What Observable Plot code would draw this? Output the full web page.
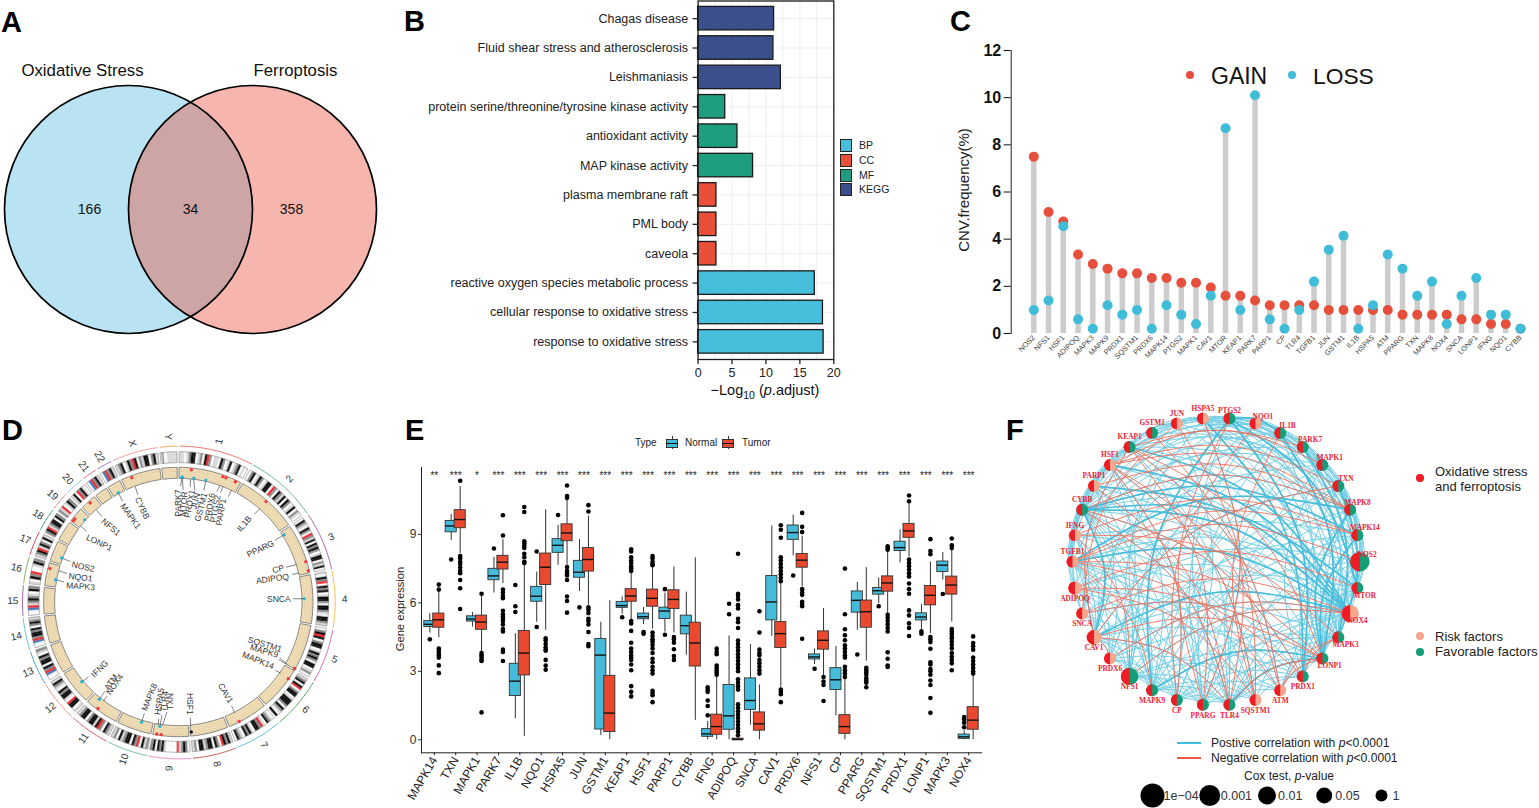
<!DOCTYPE html>
<html><head><meta charset="utf-8">
<script src="https://cdn.jsdelivr.net/npm/d3@7"></script>
<script src="https://cdn.jsdelivr.net/npm/@observablehq/plot@0.6"></script>
<style>
html,body{margin:0;padding:0;background:#fff}
#page{position:relative;width:1539px;height:808px;overflow:hidden;font-family:"Liberation Sans",Arial,sans-serif;color:#111}
#page svg{position:absolute;max-width:none;overflow:visible;background:transparent}
.t{position:absolute;white-space:nowrap;line-height:1}
.s{position:absolute}
</style></head><body><div id="page"></div>
<script>
/* ---------- A: Venn ---------- */
const vennNames=["Oxidative Stress","Ferroptosis"];
const vennCounts=[166,34,358];
const vennCountX=[89,190,291];
const vennCenterX=[128,252];
const vennColors=["#b9e3f2","#eb4832"];

/* ---------- B: enrichment ---------- */
const terms=["Chagas disease","Fluid shear stress and atherosclerosis","Leishmaniasis","protein serine/threonine/tyrosine kinase activity","antioxidant activity","MAP kinase activity","plasma membrane raft","PML body","caveola","reactive oxygen species metabolic process","cellular response to oxidative stress","response to oxidative stress"];
const termValues=[11.2,11.1,12.2,4.0,5.8,8.1,2.7,2.7,2.7,17.2,18.4,18.5];
const termGroups=["KEGG","KEGG","KEGG","MF","MF","MF","CC","CC","CC","BP","BP","BP"];
const groupNames=["BP","CC","MF","KEGG"];
const groupColors=["#47bfdc","#e8503a","#1f9e7f","#3b4f8c"];

/* ---------- C: CNV ---------- */
const cnvGenes=["NOS2","NFS1","HSF1","ADIPOQ","MAPK3","MAPK9","PRDX1","SQSTM1","PRDX6","MAPK14","PTGS2","MAPK1","CAV1","MTOR","KEAP1","PARK7","PARP1","CP","TLR4","TGFB1","JUN","GSTM1","IL1B","HSPA5","ATM","PPARG","TXN","MAPK8","NOX4","SNCA","LONP1","IFNG","NQO1","CYBB"];
const cnvGain=[7.5,5.15,4.75,3.35,2.95,2.75,2.55,2.55,2.35,2.35,2.15,2.15,1.95,1.6,1.6,1.4,1.2,1.2,1.2,1.2,1.0,1.0,1.0,1.0,1.0,0.8,0.8,0.8,0.8,0.6,0.6,0.4,0.4,0.2];
const cnvLoss=[1.0,1.4,4.55,0.6,0.2,1.2,0.8,1.0,0.2,1.2,0.8,0.4,1.6,8.7,1.0,10.1,0.6,0.2,1.0,2.2,3.55,4.15,0.2,1.2,3.35,2.75,1.6,2.2,0.4,1.6,2.35,0.8,0.8,0.2];

/* ---------- D: circos ---------- */
const chrNames=["1","2","3","4","5","6","7","8","9","10","11","12","13","14","15","16","17","18","19","20","21","22","X","Y"];
const chrMb=[249,243,198,191,181,171,159,146,141,135.5,135,134,115,107,102.5,90,81,78,59,63,48,51,155,59];
const chrColors=["#f0736a","#62b58d","#b55fa0","#f7bb52","#d968b0","#4f9f5f","#55c2dc","#c0604f","#f08fc0","#70c090","#d85a6a","#f49070","#50a0d0","#60c8c0","#a060b0","#80b050","#c04060","#40a080","#f08080","#80d0e0","#e06a70","#a070c0","#f49a90","#f0a860"];
const chrBands=["llwlmkkwlmwkrmwllwkmwlkwlmkwlw","wmkwlkmwlkkwrmwkmlkwkmwlkwmlw","wkmlwkmwrmlkwkmkmwlkkwmlkw","lwkmrwkmkwlkkmwkkmlwkkml","wmkrkwmkkwlkmkmwkkwlmw","lmkwkrwmkkwlkkkmwkmlwk","wlmkwlrmkkwlkmkwlmkw","lkmkrwmkwkkmlkkwml","wmkmlrwwwwwlkmkwkm","mlkwrmkwkkmlkwml","lmkwmrklkkmwkkml","lwkkrwlkkmkwlmkl","wwbrmkwkkmkwlm","wwbrmkkmkwmkml","wwbrlmkmlwkm","lwkmrwwlkm","lmkrlkmwkl","mkrlmkkwkm","mlrwlkm","lkwrmklw","wbrmkl","wbrmkl","lmkwlkmrkwmlkkwmkl","lmwwllllll"];
const bandColor={w:"#fbfbfb",l:"#d8d8d8",m:"#8c8c8c",k:"#0d0d0d",r:"#ee2a30",b:"#3f7fc0"};
const geneNames=["PARK7","MTOR","PRDX1","JUN","GSTM1","PRDX6","PTGS2","PARP1","IL1B","PPARG","CP","ADIPOQ","SNCA","SQSTM1","MAPK9","MAPK14","CAV1","HSF1","MAPK8","HSPA5","TLR4","TXN","ATM","NOX4","IFNG","MAPK3","NQO1","NOS2","LONP1","NFS1","MAPK1","CYBB"];
const geneChr=["1","1","1","1","1","1","1","1","2","3","3","3","4","5","5","6","7","8","10","9","9","9","11","11","12","16","16","17","19","20","22","X"];
const geneMb=[8,11,45,59,110,173,186,226,113,12,149,186,90,179,180,36,116,145,49,128,120,110,108,89,68,30,70,26,6,34,22,38];
const geneKind=["loss","loss","gain","loss","loss","gain","gain","gain","gain","loss","gain","gain","loss","gain","gain","gain","gain","mid","loss","gain","loss","gain","loss","gain","loss","loss","gain","loss","gain","gain","loss","gain"];
const geneLabelX=[533,550,568,586,602,628,645,662,732,780,833,816,835,793,791,773,675,567,447,477,492,510,332,343,298,240,240,248,296,331,390,425];
const geneLabelY=[278,280,280,272,290,290,295,305,340,415,476,505,565,702,722,750,848,880,860,873,873,873,815,822,775,528,501,469,397,350,317,293];
const geneLabelRot=[-90,-85,-80,-75,-75,-80,-80,-80,-50,-25,-13,-8,0,17,17,22,60,90,-68,-82,-85,-90,-55,-55,-45,4,7,12,25,40,55,65];

/* ---------- E: box plots ---------- */
const exprGenes=["MAPK14","TXN","MAPK1","PARK7","IL1B","NQO1","HSPA5","JUN","GSTM1","KEAP1","HSF1","PARP1","CYBB","IFNG","ADIPOQ","SNCA","CAV1","PRDX6","NFS1","CP","PPARG","SQSTM1","PRDX1","LONP1","MAPK3","NOX4"];
const exprStars=["**","***","*","***","***","***","***","***","***","***","***","***","***","***","***","***","***","***","***","***","***","***","***","***","***","***"];
// lower whisker, q1, median, q3, upper whisker
const normalStats=[[4.68,4.94,5.06,5.2,5.53],[8.74,9.09,9.37,9.59,9.88],[4.94,5.18,5.29,5.41,5.58],[6.43,6.99,7.18,7.49,8.0],[0.92,1.92,2.57,3.33,4.65],[5.15,6.05,6.29,6.7,7.35],[7.65,8.19,8.52,8.79,9.4],[6.5,7.1,7.34,7.84,8.77],[0.19,0.45,3.71,4.42,5.15],[5.5,5.78,5.88,6.04,6.26],[5.05,5.28,5.39,5.53,5.8],[4.72,5.29,5.64,5.79,6.43],[3.7,4.62,5.0,5.44,6.47],[0,0.13,0.26,0.47,0.8],[0,0.44,1.05,2.4,4.55],[0.64,1.31,1.72,2.69,4.18],[4.53,5.23,6.04,7.18,9.37],[8.06,8.76,9.08,9.39,9.84],[3.3,3.52,3.63,3.74,3.98],[1.05,2.18,2.63,3.14,4.09],[4.8,5.57,6.11,6.5,6.9],[5.96,6.36,6.53,6.65,7.09],[7.75,8.27,8.42,8.68,9.2],[4.84,5.23,5.38,5.54,5.92],[7.0,7.35,7.65,7.81,8.2],[0,0.04,0.13,0.23,0.4]];
const tumorStats=[[4.47,4.91,5.26,5.53,6.47],[8.15,9.27,9.65,10.06,11.1],[3.85,4.82,5.16,5.44,6.37],[6.85,7.46,7.78,8.06,8.77],[0.15,2.82,3.8,4.77,7.65],[4.8,6.78,7.56,8.16,10.08],[7.65,8.7,9.06,9.44,10.5],[5.9,7.37,7.9,8.4,9.8],[0,0.34,1.17,2.8,6.1],[5.2,6.05,6.3,6.6,7.4],[4.85,5.83,6.2,6.58,7.55],[4.68,5.73,6.15,6.55,7.57],[0.85,3.21,4.24,5.13,7.97],[0,0.22,0.58,1.1,2.75],[0,0,0.01,0.05,0.1],[0,0.4,0.7,1.2,2.4],[2.3,4.02,4.65,5.16,6.84],[6.7,7.54,7.87,8.14,8.92],[2.82,3.95,4.36,4.75,5.75],[0,0.26,0.58,1.08,2.67],[3.45,4.91,5.61,6.1,7.54],[5.53,6.49,6.87,7.16,8.3],[8.0,8.85,9.15,9.46,10.42],[4.65,5.89,6.33,6.74,7.79],[5.16,6.36,6.78,7.15,8.52],[0,0.44,0.86,1.43,2.82]];
const normalOutliers=[[4.4],[7.9],[],[8.38],[6.78,5.85,5.6],[8.25,4.94],[9.85],[5.8],[],[5.37],[4.72,4.65],[6.6,4.6],[],[2.3,2.2,2.1,1.72,1.48,1.07],[5.96,5.5],[],[],[7.2],[3.11],[],[3.74],[5.85],[],[4.75,4.65],[6.39],[1.0,0.9,0.75,0.55]];
const tumorOutliers=[[6.8,6.58,4.0,3.9,3.8,3.7,3.6,3.26,2.92],[11.35,8.05,7.95,7.8,7.7,7.55,7.4,7.3,7.0,6.64,5.73],[6.4,3.8,3.7,3.6,3.5,3.45,1.2],[9.84,8.95,6.58,6.45,6.3,6.2,5.65,5.5,5.4,5.3,5.2,5.05,4.85,4.75,3.95,3.85,3.45],[10.2,9.98,8.7,8.6,8.5,8.4,8.15,8.0,7.8,7.75],[4.45,4.35,4.2,4.05,3.95,3.9,3.5,3.25,3.07],[11.14,10.68,10.6,7.57,7.4,7.3,7.2,7.0,6.28,6.08,5.57],[10.28,10.0,5.8,5.7,5.55,5.3,5.2,5.05,4.72,4.2,4.1],[],[8.35,8.25,8.0,7.85,7.75,7.6,7.5,7.4,5.2,5.1,4.77,4.25,4.0,3.85,3.7,3.6,3.5,3.3,3.05,2.35,2.1,1.9],[8.05,7.95,7.8,7.7,7.65,4.7,4.55,4.4,4.3,4.15,4.0,3.8,3.55,3.4,3.2,3.05,2.9,2.15,2.05,1.95,1.65],[4.5,4.4,4.25,3.97,3.67,3.5],[],[4.0,3.85,3.75,3.25,3.15,3.05,2.95,2.85],[8.15,6.4,6.3,6.15,5.9,5.75,5.3,5.15,4.9,4.35,4.2,4.05,3.9,3.75,3.6,3.45,3.3,3.15,3.0,2.65,2.5,2.35,2.2,1.55,1.4,1.25,1.1,0.95,0.8,0.65,0.5,0.35,0.2],[5.63,4.7,3.95,3.8,3.7,3.5,3.35,3.2,3.05,2.9],[9.4,9.2,8.85,8.0,7.85,7.7,7.55,7.4,7.25,7.1,6.95,2.2,2.1,2.0,1.65],[9.94,9.33,9.1,6.6,6.45,6.35,6.05,5.95,5.85,4.43],[2.75,2.55,2.4,1.7],[7.5,5.5,4.84,4.58,4.36,4.14,4.0,3.85,3.7,3.6,3.2,3.05,2.9,2.75],[3.15,3.05,2.95,2.85,2.7,2.6,2.5,2.3],[8.48,8.4,8.33,5.48,5.35,5.2,5.05,4.9,4.75,3.83,3.55,3.25,3.19],[10.7,10.45,7.9,7.75,7.6,7.45,7.3,7.15,6.85,6.6,6.4,5.67,5.45,5.1,4.9,4.55],[8.79,8.27,8.13,4.5,4.4,4.28,3.99,3.4,3.3,3.1,3.0,2.85,2.6,2.4,1.83,1.18],[8.82,8.52,8.4,4.85,4.75,4.65,4.55,4.45,4.3,4.15,4.0,3.8,3.65,3.5,3.35,3.05],[4.53,4.24,4.1,3.95,3.6,3.45,3.3,3.15,3.0,2.9]];

/* ---------- F: network ---------- */
const netGenes=["PTGS2","NQO1","IL1B","PARK7","MAPK1","TXN","MAPK8","MAPK14","NOS2","MTOR","NOX4","MAPK3","LONP1","PRDX1","ATM","SQSTM1","TLR4","PPARG","CP","MAPK9","NFS1","PRDX6","CAV1","SNCA","ADIPOQ","TGFB1","IFNG","CYBB","PARP1","HSF1","KEAP1","GSTM1","JUN","HSPA5"];
const netRisk=["F","R","F","F","F","F","F","F","F","F","R","F","F","F","R","R","F","F","F","F","F","R","R","R","R","R","R","F","R","R","F","F","R","R"];
const netP=[1,1,1,1,1,1,1,1,0.0034,1,0.016,1,1,1,1,1,1,1,1,1,0.016,1,0.13,1,0.34,1,1,1,1,1,1,1,1,1];
const posThin={0:[2,3,4,6,7,9,10,12,16,19,22,25,27,29],1:[2,4,8,12,17,20,27],2:[4,5,6,8,9,11,12,14,17,20,23,26,27,31],3:[6,7,9,10,12,16,18,21,26,30,33],4:[6,7,9,12,13,16,19,24,27,32,33],5:[7,8,10,12,17,19,22,30,33],6:[7,8,9,11,12,13,18,20,25,27,31,33],7:[9,11,12,16,19,21,24,27,30,33],8:[9,10,12,13,17,20,23,27,32],9:[10,11,12,13,15,16,19,22,25,30,33],10:[11,12,13,14,16,17,18,20,21,24,26,33],11:[12,13,16,18,19,22,27,29,32],12:[13,14,16,17,19,21,23,26,28,31,33],13:[15,16,18,20,22,25,27],14:[16,18,20,24,26,30],15:[17,19,21,25,27,29],16:[17,18,19,20,22,25,27,30],17:[18,19,20,22,24,27,28,33],18:[19,20,21,23,25,27,29,32],19:[20,21,22,24,26,27,29,32],20:[21,22,23,25,27,28,33],21:[22,24,25,27,29],22:[23,24,25,26,27,28,30],23:[25,26,27,28],24:[25,26,27,29],25:[26,27,28,29,30],26:[27,28,29,30,32],27:[28,29,30,33],28:[29,30,32],29:[30,33],30:[33,32],32:[33]};
const posThick=[[30,10],[27,10],[28,10],[25,10],[22,10],[27,22],[0,2],[0,9],[2,12],[6,12],[5,11],[27,7],[29,10],[25,6],[33,13],[0,13],[3,11],[7,12],[19,12],[16,12],[19,0],[27,9]];
const negEdges=[[29,6],[28,6],[25,7],[14,11],[16,12],[14,12],[13,11],[30,14],[32,16],[29,14],[5,22],[22,21],[25,14],[25,12],[24,15],[23,12],[22,12],[30,22],[29,18],[27,16],[26,20],[0,17],[1,18],[30,17],[32,23],[21,10],[20,10],[28,16],[4,30],[3,29],[5,29],[6,27],[26,11],[24,13],[23,10],[33,17],[22,16],[27,13],[25,19],[30,12],[29,15],[31,15],[2,15],[8,25],[9,24],[7,26]];
const coxP=[0.0001,0.001,0.01,0.05,1];
const coxLabels=["1e\u221204","0.001","0.01","0.05","1"];

/* ---------- helpers ---------- */
const page=document.getElementById("page");
const FONT='"Liberation Sans",Arial,sans-serif';
function place(svg,left,top){svg.style.left=left+"px";svg.style.top=top+"px";page.appendChild(svg);return svg;}
function txt(html,x,y,o={}){const d=document.createElement("div");d.className="t";d.innerHTML=html;
 const ax=o.anchor==="center"?"-50%":o.anchor==="end"?"-100%":"0";
 d.style.cssText=`left:${x}px;top:${y}px;font-size:${o.size||12}px;color:${o.color||"#111"};font-weight:${o.weight||"normal"};transform:translate(${ax},-50%) rotate(${o.rotate||0}deg);`;
 page.appendChild(d);}
function box(x,y,w,h,css){const d=document.createElement("div");d.className="s";d.style.cssText=`left:${x}px;top:${y}px;width:${w}px;height:${h}px;box-sizing:border-box;${css}`;page.appendChild(d);}
function legendDot(cx,cy,r,color){box(cx-r,cy-r,2*r,2*r,`border-radius:50%;background:${color}`);}
const identity=(w,h)=>({x:{domain:[0,w],range:[0,w],axis:null},y:{domain:[0,h],range:[0,h],axis:null}});
const base=(w,h,m={})=>({width:w,height:h,marginTop:0,marginBottom:0,marginLeft:0,marginRight:0,style:{fontFamily:FONT,background:"transparent",overflow:"visible"},...m});

/* panel letters */
[["A",1,22],["B",404,21],["C",950,21],["D",2,430],["E",405,430],["F",1006,430]].forEach(([s,x,y])=>txt(s,x,y,{size:29,weight:"bold",color:"#000"}));

/* ---------- draw A ---------- */
{
 const circles=vennNames.map((n,i)=>({name:n,x:vennCenterX[i],y:169}));
 place(Plot.plot({...base(400,320),...identity(400,320),marks:[
  Plot.dot([circles[0]],{x:"x",y:"y",r:124,fill:vennColors[0]}),
  Plot.dot([circles[1]],{x:"x",y:"y",r:124,fill:vennColors[1],fillOpacity:0.4}),
  Plot.dot(circles,{x:"x",y:"y",r:124,stroke:"#000",strokeWidth:1.7}),
  Plot.text(vennCounts.map((c,i)=>({c,x:vennCountX[i]})),{x:"x",y:()=>169,text:"c",fontSize:14,fill:"#111"}),
  Plot.text(vennNames.map((n,i)=>({n,x:[82,295][i]})),{x:"x",y:()=>30,text:"n",fontSize:16.8,fill:"#111"})
 ]}),0,40);
}

/* ---------- draw B ---------- */
{
 const rows=terms.map((t,i)=>({t,v:termValues[i],g:termGroups[i]}));
 place(Plot.plot({width:440,height:400,marginLeft:297.6,marginRight:6.7,marginTop:0.5,marginBottom:41,
  style:{fontFamily:FONT,background:"transparent",overflow:"visible"},
  x:{domain:[0,20],axis:null},
  y:{domain:terms,padding:0.2,round:false,axis:null,align:0.5},
  color:{domain:groupNames,range:groupColors},
  marks:[
   Plot.gridX({ticks:d3.range(0,20,2.5),stroke:"#ececec",strokeOpacity:1,strokeWidth:0.9}),
   Plot.gridY(terms,{y:d=>d,stroke:"#ececec",strokeOpacity:1,strokeWidth:0.9}),
   Plot.barX(rows,{x:"v",y:"t",fill:"g",stroke:"#1a1a1a",strokeWidth:1.3}),
   Plot.frame({stroke:"#1a1a1a",strokeWidth:1.3}),
   Plot.axisY({domain:terms,tickSize:5,tickPadding:5,fontSize:12.5,color:"#222",strokeWidth:1.3,label:null}),
   Plot.axisX({ticks:[0,5,10,15,20],tickSize:5,tickPadding:4,fontSize:12.5,color:"#222",strokeWidth:1.3,label:null})
  ]}),400,0);
 groupNames.forEach((g,i)=>{const y=[145,160,175,189][i];
  box(840,y-6.5,12,13,`background:${groupColors[i]};border:1px solid #222`);
  txt(g,859,y,{size:10.5,color:"#222"});});
 txt("\u2212Log<sub style='font-size:10.5px'>10</sub> (<i>p</i>.adjust)",765,392,{size:14.5,anchor:"center",color:"#111"});
}

/* ---------- draw C ---------- */
{
 const left=950,top=40;
 const rows=cnvGenes.map((g,i)=>({i,gain:cnvGain[i],loss:cnvLoss[i],top:Math.max(cnvGain[i],cnvLoss[i])}));
 place(Plot.plot({width:580,height:340,marginLeft:60.7,marginRight:0,marginTop:10,marginBottom:47,
  style:{fontFamily:FONT,background:"transparent",overflow:"visible"},
  x:{domain:[0,cnvGenes.length-1],range:[1033.3-left,1520-left],axis:null},
  y:{domain:[0,12],axis:null},
  marks:[
   Plot.frame({anchor:"left",stroke:"#222"}),
   Plot.ruleX(rows,{x:"i",y1:()=>0,y2:"top",stroke:"#cccccc",strokeWidth:5.5}),
   Plot.dot(rows,{x:"i",y:"gain",r:5,fill:"#e64f3c"}),
   Plot.dot(rows,{x:"i",y:"loss",r:5,fill:"#3fbdd8"}),
   Plot.axisY({ticks:[0,2,4,6,8,10,12],tickSize:7,tickPadding:3,fontSize:16,fontWeight:"bold",color:"#111",label:null}),
   Plot.axisX({ticks:d3.range(cnvGenes.length),tickFormat:i=>cnvGenes[i],tickSize:0,tickRotate:-45,tickPadding:3,fontSize:7.3,color:"#444",label:null})
  ]}),left,top);
 txt("CNV.frequency(%)",963,190,{size:15,anchor:"center",rotate:-90,color:"#222"});
 legendDot(1190,75,3.8,"#e64f3c");txt("GAIN",1211,76,{size:23,color:"#111"});
 legendDot(1292,75,3.8,"#3fbdd8");txt("LOSS",1313,76,{size:22.8,color:"#111"});
}

/* ---------- draw D ---------- */
{
 const CX=535,CY=576,gap=1,total=d3.sum(chrMb),perMb=(360-gap*chrMb.length)/total;
 const starts=[];let acc=0.5;chrMb.forEach(m=>{starts.push(acc);acc+=m*perMb+gap;});
 const pol=(deg,r)=>({x:CX+r*Math.sin(deg*Math.PI/180),y:CY-r*Math.cos(deg*Math.PI/180)});
 const seg=(id,a0,a1,r0,r1,extra={})=>{const n=Math.max(2,Math.ceil((a1-a0)/0.6)+1);return d3.range(n).map(k=>{const a=a0+(a1-a0)*k/(n-1),i=pol(a,r0),o=pol(a,r1);return {id,x1:i.x,y1:i.y,x2:o.x,y2:o.y,...extra};});};
 const chrSpan=i=>[starts[i],starts[i]+chrMb[i]*perMb];
 const bands=[],ideoFrames=[],tans=[],arcs=[],trackLines=[];
 chrNames.forEach((c,i)=>{const [a0,a1]=chrSpan(i),s=chrBands[i];
  [...s].forEach((ch,k)=>{bands.push(...seg(c+"b"+k,a0+(a1-a0)*k/s.length,a0+(a1-a0)*(k+1)/s.length,418,451,{color:bandColor[ch]}));});
  ideoFrames.push(...seg(c,a0,a1,418,451));
  tans.push(...seg(c,a0,a1,371,404));
  [378,385.5,393,398].forEach(r=>seg(c+"r"+r,a0,a1,r,r).forEach(p=>trackLines.push({id:p.id,x:p.x1,y:p.y1})));
  seg(c,a0,a1,469,469).forEach(p=>arcs.push({id:c,x:p.x1,y:p.y1,color:chrColors[i]}));
 });
 const chrLabels=chrNames.map((c,i)=>{const [a0,a1]=chrSpan(i),m=(a0+a1)/2,p=pol(m,498);return {c,...p,rot:m<180?m-90:m-270};});
 const geneRows=geneNames.map((g,i)=>{const ci=chrNames.indexOf(geneChr[i]),a=starts[ci]+geneMb[i]*perMb,k=geneKind[i];
  const r=k==="gain"?400:k==="loss"?376:390,p=pol(a,r),s=pol(a,372),lx=geneLabelX[i],ly=geneLabelY[i];
  const dx=s.x-lx,dy=s.y-ly,L=Math.hypot(dx,dy),h=g.length*9+6;
  return {g,x:p.x,y:p.y,color:k==="gain"?"#ee3b3b":k==="loss"?"#2fb6cf":"#111",lx,ly,rot:geneLabelRot[i],sx:s.x,sy:s.y,ex:lx+dx/L*Math.min(h,L),ey:ly+dy/L*Math.min(h,L)};});
 const extraDots=[{x:pol(starts[18]+37*perMb,376).x,y:pol(starts[18]+37*perMb,376).y,color:"#2fb6cf"},{x:pol(starts[18]+14*perMb,400).x,y:pol(starts[18]+14*perMb,400).y,color:"#ee3b3b"}];
 place(Plot.plot({...base(390,398),x:{domain:[0,1170],range:[0,390],axis:null},y:{domain:[0,1194],range:[0,398],axis:null},color:{type:"identity"},marks:[
  Plot.line(arcs,{x:"x",y:"y",z:"id",stroke:"color",strokeWidth:1}),
  Plot.area(bands,{x1:"x1",y1:"y1",x2:"x2",y2:"y2",z:"id",fill:"color",stroke:"color",strokeWidth:0.25}),
  Plot.area(ideoFrames,{x1:"x1",y1:"y1",x2:"x2",y2:"y2",z:"id",fill:"none",stroke:"#888",strokeWidth:0.6}),
  Plot.area(tans,{x1:"x1",y1:"y1",x2:"x2",y2:"y2",z:"id",fill:"#f2dfb6",stroke:"#666",strokeWidth:0.8}),
  Plot.line(trackLines,{x:"x",y:"y",z:"id",stroke:"#c9bb9c",strokeWidth:0.4}),
  Plot.dot(geneRows,{x:"x",y:"y",r:1.7,fill:"color"}),
  Plot.dot(extraDots,{x:"x",y:"y",r:1.7,fill:"color"}),
  Plot.link(geneRows,{x1:"sx",y1:"sy",x2:"ex",y2:"ey",stroke:"#333",strokeWidth:0.6}),
  Plot.text(geneRows,{x:"lx",y:"ly",text:"g",rotate:"rot",fontSize:8.5,fill:"#333"}),
  Plot.text(chrLabels,{x:"x",y:"y",text:"c",rotate:"rot",fontSize:10,fill:"#333"})
 ]}),0,410);
}

/* ---------- draw E ---------- */
{
 const left=395,top=460;
 const off=0.21,hw=0.26;
 const layer=(stats,outs,sign,color)=>{
  const rows=exprGenes.map((g,i)=>{const [lo,q1,med,q3,hi]=stats[i];return {i:i+sign*off,a:i+sign*off-hw,b:i+sign*off+hw,lo,q1,med,q3,hi};});
  const pts=outs.flatMap((o,i)=>o.map(v=>({i:i+sign*off,v})));
  return [
   Plot.ruleX(rows,{x:"i",y1:"lo",y2:"hi",stroke:"#333",strokeWidth:1}),
   Plot.rect(rows,{x1:"a",x2:"b",y1:"q1",y2:"q3",fill:color,stroke:"#333",strokeWidth:0.9}),
   Plot.ruleY(rows,{y:"med",x1:"a",x2:"b",stroke:"#111",strokeWidth:1.4}),
   Plot.dot(pts,{x:"i",y:"v",r:2.3,fill:"#000"})
  ];};
 place(Plot.plot({width:600,height:340,marginLeft:26,marginRight:14,marginTop:7,marginBottom:47.7,
  style:{fontFamily:FONT,background:"transparent",overflow:"visible"},
  x:{domain:[-0.6,25.6],axis:null},
  y:{domain:[-0.57,11.93],axis:null},
  marks:[
   Plot.frame({anchor:"left",stroke:"#222"}),
   Plot.frame({anchor:"bottom",stroke:"#222"}),
   ...layer(normalStats,normalOutliers,-1,"#45bbd9"),
   ...layer(tumorStats,tumorOutliers,1,"#e8492f"),
   Plot.text(exprGenes,{x:(d,i)=>i,y:()=>11.58,text:(d,i)=>exprStars[i],fontSize:10,fill:"#222"}),
   Plot.axisY({ticks:[0,3,6,9],tickSize:3,tickPadding:2,fontSize:12,color:"#333",label:null}),
   Plot.axisX({ticks:d3.range(exprGenes.length),tickFormat:i=>exprGenes[i],tickSize:3,tickPadding:2,tickRotate:-60,fontSize:12,color:"#222",label:null})
  ]}),left,top);
 txt("Gene expression",401,609,{size:11.2,anchor:"center",rotate:-90,color:"#222"});
 txt("Type",635,443,{size:10,color:"#222"});
 [[666,"#45bbd9","Normal",685],[722,"#e8492f","Tumor",742]].forEach(([x,c,s,tx])=>{
  box(x+5.5,436,1,13,"background:#333");
  box(x,438.5,12,9,`background:${c};border:1px solid #333`);
  box(x,442.5,12,1.2,"background:#111");
  txt(s,tx,443,{size:10,color:"#222"});});
}

/* ---------- draw F ---------- */
{
 const cx=215.7,cy=161.2,R=143.7,n=netGenes.length;
 const nodes=netGenes.map((g,i)=>{const a=(i+0.5)*2*Math.PI/n;
  const off=i===0?[0,-7.5]:i<=8?[7.3,-7.3]:i<=12?[7.3,7.5]:i<=24?[0,10.5]:[0,-10];
  return {g,i,x:cx+R*Math.sin(a),y:cy-R*Math.cos(a),p:netP[i],c:netRisk[i]==="R"?"#f6a68c":"#149e78",lx:cx+R*Math.sin(a)+off[0],ly:cy-R*Math.cos(a)+off[1]};});
 const curve=(pairs,prefix)=>pairs.flatMap(([s,t],k)=>{let A=nodes[s],B=nodes[t];if(A.x>B.x)[A,B]=[B,A];
  const dx=B.x-A.x,dy=B.y-A.y,m={x:(A.x+B.x)/2+dy*0.13,y:(A.y+B.y)/2-dx*0.13};
  return [A,m,B].map(p=>({id:prefix+k,x:p.x,y:p.y}));});
 const thin=Object.entries(posThin).flatMap(([s,ts])=>ts.map(t=>[+s,t]));
 const halfLeft={draw(ctx,size){const r=Math.sqrt(size/Math.PI);ctx.arc(0,0,r,Math.PI/2,Math.PI*1.5);ctx.closePath();}};
 const rScale={type:"log",domain:[1e-4,1],range:[12,6]};
 place(Plot.plot({...base(440,340),...identity(440,340),r:rScale,marks:[
  Plot.line(curve(thin,"a"),{x:"x",y:"y",z:"id",curve:"natural",stroke:"#74cfe5",strokeWidth:1}),
  Plot.line(curve(posThick,"b"),{x:"x",y:"y",z:"id",curve:"natural",stroke:"#48bedc",strokeWidth:1.7}),
  Plot.line(curve(negEdges,"n"),{x:"x",y:"y",z:"id",curve:"natural",stroke:"#f0705c",strokeWidth:0.9}),
  Plot.dot(nodes,{x:"x",y:"y",r:"p",fill:"c"}),
  Plot.dot(nodes,{x:"x",y:"y",r:"p",fill:"#ee1c25",symbol:halfLeft}),
  Plot.text(nodes,{x:"lx",y:"ly",text:"g",fontSize:7.4,fontWeight:"bold",fontFamily:"Liberation Serif",fill:"#ee2233"})
 ]}),1000,400);
 legendDot(1420,478,3.7,"#ee1c25");
 txt("Oxidative stress",1435,471,{size:13,color:"#222"});txt("and ferroptosis",1435,486,{size:13,color:"#222"});
 legendDot(1420,636,3.7,"#f6a68c");txt("Risk factors",1435,636,{size:13,color:"#222"});
 legendDot(1420,652,3.7,"#149e78");txt("Favorable factors",1435,652,{size:13.3,color:"#222"});
 box(1177,742,24,1.6,"background:#45bddc");box(1177,757,24,1.6,"background:#ef5a45");
 txt("Postive correlation with <i>p</i>&lt;0.0001",1211,743,{size:12.1,color:"#222"});
 txt("Negative correlation with <i>p</i>&lt;0.0001",1211,758,{size:12.1,color:"#222"});
 txt("Cox test, <i>p</i>-value",1289,776,{size:12,anchor:"center",color:"#222"});
 const leg=coxP.map((p,i)=>({p,l:coxLabels[i]}));
 place(Plot.plot({...base(300,30),x:{type:"point",domain:coxP,range:[12,241],padding:0,round:false,axis:null},y:{axis:null,domain:[0,30],range:[0,30]},r:rScale,marks:[
  Plot.dot(leg,{x:"p",y:()=>15,r:"p",fill:"#000"}),
  Plot.text(leg,{x:"p",y:()=>15,text:"l",dx:11,textAnchor:"start",fontSize:12.5,fill:"#333"})
 ]}),1140,780);
}
</script></body></html>
